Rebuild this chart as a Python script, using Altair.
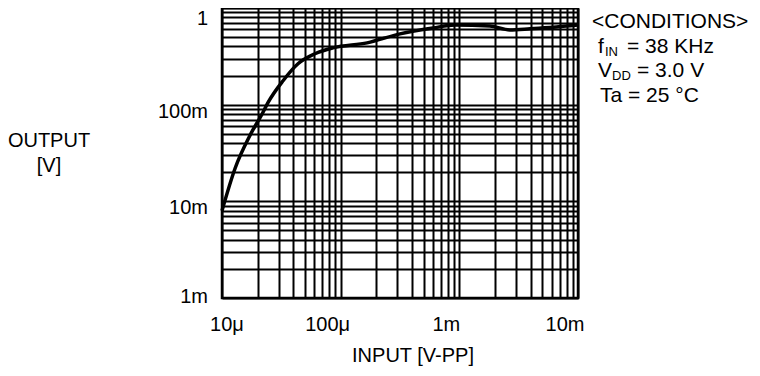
import math
import altair as alt
import pandas as pd

# ---- data ----
input_vpp = [10e-6, 12.9e-6, 17.2e-6, 22e-6, 24.4e-6, 32.7e-6, 43.7e-6, 60.7e-6, 86e-6,
             167e-6, 316e-6, 600e-6, 919e-6, 1.81e-3, 2.66e-3, 3.94e-3, 10e-3]
output_v = [8e-3, 22e-3, 48e-3, 82e-3, 105e-3, 177e-3, 265e-3, 336e-3, 387e-3,
            436e-3, 540e-3, 622e-3, 668e-3, 652e-3, 593e-3, 609e-3, 668e-3]

x_decades = [1e-5, 1e-4, 1e-3, 1e-2]
x_labels = ["10μ", "100μ", "1m", "10m"]
y_decades = [1e-3, 1e-2, 1e-1, 1.0]
y_labels = ["1m", "10m", "100m", "1"]
grid_multipliers = [1, 2, 3, 4, 5, 6, 7, 8, 9]

FONT = "Liberation Sans"

X_SCALE = alt.Scale(type="log", domain=[x_decades[0], x_decades[-1]], nice=False)
Y_SCALE = alt.Scale(type="log", domain=[y_decades[0], y_decades[-1]], nice=False)


def grid_values(decades):
    vals = [m * d for d in decades[:-1] for m in grid_multipliers]
    return vals + [decades[-1]]


axis_common = dict(
    grid=True, gridColor="black", gridWidth=2, gridOpacity=1,
    ticks=False, labels=False, domain=False, title=None,
)
X_AXIS = alt.Axis(values=grid_values(x_decades), **axis_common)
Y_AXIS = alt.Axis(values=grid_values(y_decades), **axis_common)

df = pd.DataFrame({"input": input_vpp, "output": output_v})

line = alt.Chart(df).mark_line(color="black", strokeWidth=3.5, interpolate="monotone").encode(
    x=alt.X("input:Q", scale=X_SCALE, axis=X_AXIS),
    y=alt.Y("output:Q", scale=Y_SCALE, axis=Y_AXIS),
)


def x_tick_text(idx, dx):
    d = pd.DataFrame({"input": [x_decades[i] for i in idx], "lab": [x_labels[i] for i in idx]})
    return alt.Chart(d).mark_text(
        font=FONT, fontSize=20, align="center", baseline="top", color="black", dx=dx
    ).encode(x=alt.X("input:Q", scale=X_SCALE, axis=X_AXIS), y=alt.value(307), text="lab:N")


def y_tick_text(idx, dy):
    d = pd.DataFrame({"output": [y_decades[i] for i in idx], "lab": [y_labels[i] for i in idx]})
    return alt.Chart(d).mark_text(
        font=FONT, fontSize=20, align="right", baseline="middle", color="black", dy=dy
    ).encode(y=alt.Y("output:Q", scale=Y_SCALE, axis=Y_AXIS), x=alt.value(-14), text="lab:N")


def note(text, x, y, size=20, align="left"):
    return alt.Chart(alt.Data(values=[{}])).mark_text(
        text=text, font=FONT, fontSize=size, align=align, baseline="alphabetic", color="black"
    ).encode(x=alt.value(x), y=alt.value(y))


tick_texts = [
    x_tick_text([0], 5),
    x_tick_text([1, 2, 3], -13),
    y_tick_text([0], -1),
    y_tick_text([1, 2], 7),
    y_tick_text([3], 11),
]

notes = [
    note("OUTPUT", -173, 139, align="center"),
    note("[V]", -173, 164, align="center"),
    note("INPUT [V-PP]", 191, 354, align="center"),
    note("<CONDITIONS>", 370, 20, size=21),
    note("f", 376, 45, size=21),
    note("IN", 383, 48, size=13),
    note("= 38 KHz", 405, 45, size=21),
    note("V", 376, 69, size=21),
    note("DD", 390, 72, size=13),
    note("= 3.0 V", 415, 69, size=21),
    note("Ta = 25 °C", 378, 94, size=21),
]

chart = alt.layer(line, *tick_texts, *notes).properties(
    width=356, height=290,
    autosize=alt.AutoSizeParams(type="none"),
    padding={"left": 214, "top": 0, "right": 174, "bottom": 70},
    background="white",
).configure_view(stroke="black", strokeWidth=2.5)

chart.save("out.html", embed_options={"renderer": "svg", "actions": False})
